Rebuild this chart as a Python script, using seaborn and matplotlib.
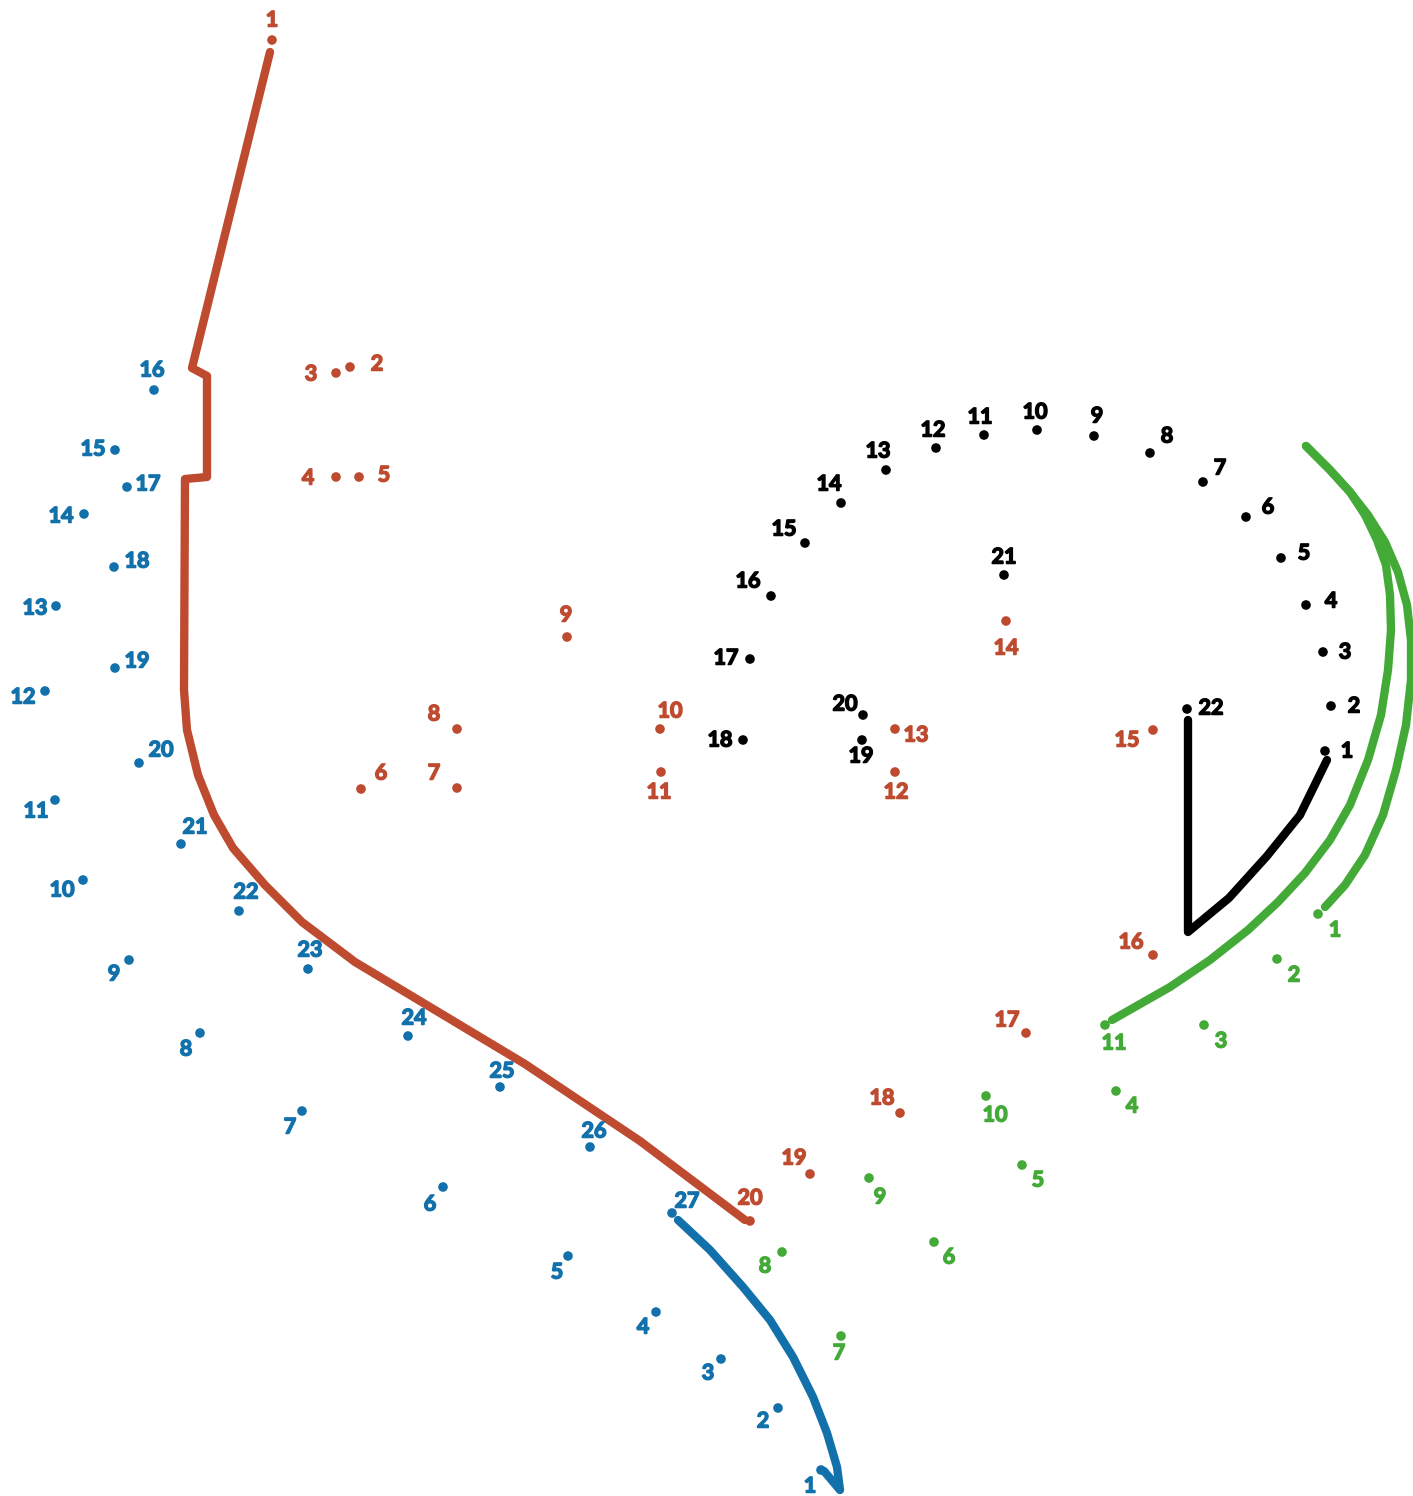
import seaborn as sns
import pandas as pd
import matplotlib.pyplot as plt
import matplotlib.patheffects as pe

sns.set_theme(style="white")
plt.rcParams['font.family'] = ['Lato', 'DejaVu Sans']

# dot positions (pixels, y from top)
red_x = [272, 350, 336, 336, 359, 361, 457, 457, 567, 660, 661, 895, 895, 1006, 1153, 1153, 1026, 900, 810, 750]
red_y = [40, 367, 373, 477, 477, 789, 788, 729, 637, 729, 772, 772, 729, 621, 730, 955, 1033, 1113, 1174, 1221]
red_dx = [0, 27, -25, -28, 25, 20, -23, -23, -1, 10, -2, 1, 21, 0, -26, -22, -19, -18, -16, 0]
red_dy = [-20, -3, 1, 1, -2, -16, -15, -15, -22, -18, 20, 20, 6, 27, 10, -13, -13, -15, -16, -23]

blue_x = [821, 778, 721, 656, 568, 443, 302, 200, 129, 83, 55, 45, 56, 84, 115, 154, 127, 114, 115, 139,
          181, 239, 308, 408, 500, 590, 672]
blue_y = [1470, 1408, 1359, 1312, 1256, 1187, 1111, 1033, 960, 880, 800, 691, 606, 514, 450, 390, 487, 567,
          668, 763, 844, 911, 969, 1036, 1087, 1147, 1213]
blue_dx = [-11, -15, -13, -13, -11, -13, -12, -14, -15, -21, -19, -22, -21, -23, -22, -2, 21, 23, 22, 22,
           14, 7, 2, 6, 2, 4, 15]
blue_dy = [16, 13, 14, 15, 16, 17, 16, 16, 14, 10, 11, 6, 2, 2, -1, -20, -3, -6, -7, -13,
           -17, -19, -19, -18, -16, -16, -12]

black_x = [1325, 1331, 1323, 1306, 1281, 1246, 1203, 1150, 1094, 1037, 984, 936, 886, 841, 805, 771, 750,
           743, 862, 863, 1004, 1187]
black_y = [751, 706, 652, 605, 558, 517, 482, 453, 436, 430, 435, 448, 470, 503, 543, 596, 659, 740, 740,
           715, 575, 709]
black_dx = [22, 23, 22, 25, 23, 22, 17, 17, 3, -2, -4, -3, -8, -12, -21, -23, -24, -23, -1, -18, 0, 24]
black_dy = [0, 0, 0, -4, -5, -10, -14, -17, -20, -18, -18, -18, -19, -19, -14, -15, -1, 0, 16, -11, -18, -1]

green_x = [1318, 1277, 1204, 1116, 1022, 934, 841, 782, 869, 986, 1105]
green_y = [914, 959, 1025, 1091, 1165, 1242, 1336, 1252, 1178, 1096, 1025]
green_dx = [17, 17, 17, 16, 16, 15, -2, -17, 11, 9, 9]
green_dy = [16, 16, 16, 15, 15, 15, 17, 14, 19, 19, 18]

# already drawn strokes
red_path_x = [270, 192, 207, 207, 185, 184, 187, 198, 214, 233, 265, 302, 355, 430, 525, 640, 745]
red_path_y = [52, 368, 376, 477, 479, 690, 730, 775, 815, 848, 885, 922, 962, 1007, 1064, 1141, 1220]

blue_path_x = [678, 710, 743, 770, 793, 813, 827, 837, 840, 824]
blue_path_y = [1220, 1250, 1287, 1320, 1357, 1397, 1433, 1467, 1490, 1471]

black_path_x = [1188, 1188, 1229, 1267, 1300, 1327]
black_path_y = [720, 932, 898, 856, 815, 760]

green_outer_x = [1306, 1330, 1350, 1368, 1385, 1398, 1407, 1411, 1411, 1406, 1396, 1383, 1365, 1345, 1325]
green_outer_y = [446, 470, 492, 515, 542, 572, 605, 640, 680, 725, 770, 815, 855, 885, 907]
green_inner_x = [1306, 1330, 1350, 1365, 1377, 1386, 1390, 1391, 1388, 1381, 1368, 1350, 1330, 1305, 1278,
                 1248, 1210, 1170, 1112]
green_inner_y = [446, 470, 492, 515, 540, 565, 595, 630, 670, 715, 760, 805, 840, 873, 902, 930, 960, 987,
                 1020]

RED = '#BE4A2F'
BLUE = '#1271AA'
BLACK = '#000000'
GREEN = '#44AA37'

fig = plt.figure(figsize=(14.13, 14.96), dpi=100)
ax = fig.add_axes([0, 0, 1, 1])


def stroke(xs, ys, color):
    d = pd.DataFrame({'x': xs, 'y': ys})
    sns.lineplot(data=d, x='x', y='y', sort=False, estimator=None, color=color, lw=6,
                 solid_capstyle='round', solid_joinstyle='round', ax=ax, zorder=2)


def dots(xs, ys, dxs, dys, color):
    d = pd.DataFrame({'x': xs, 'y': ys})
    sns.scatterplot(data=d, x='x', y='y', color=color, s=48, edgecolor='none', ax=ax, zorder=3)
    for i, (x, y, dx, dy) in enumerate(zip(xs, ys, dxs, dys)):
        ax.text(x + dx, y + dy, str(i + 1), color=color, fontsize=15.5, fontweight='bold',
                ha='center', va='center', zorder=4,
                path_effects=[pe.withStroke(linewidth=1.1, foreground=color)])


stroke(red_path_x, red_path_y, RED)
stroke(blue_path_x, blue_path_y, BLUE)
stroke(black_path_x, black_path_y, BLACK)
stroke(green_outer_x, green_outer_y, GREEN)
stroke(green_inner_x, green_inner_y, GREEN)

dots(red_x, red_y, red_dx, red_dy, RED)
dots(blue_x, blue_y, blue_dx, blue_dy, BLUE)
dots(black_x, black_y, black_dx, black_dy, BLACK)
dots(green_x, green_y, green_dx, green_dy, GREEN)

ax.set_xlim(0, 1413)
ax.set_ylim(1496, 0)
ax.set_axis_off()

fig.savefig('out.png', dpi=100, facecolor='white')
